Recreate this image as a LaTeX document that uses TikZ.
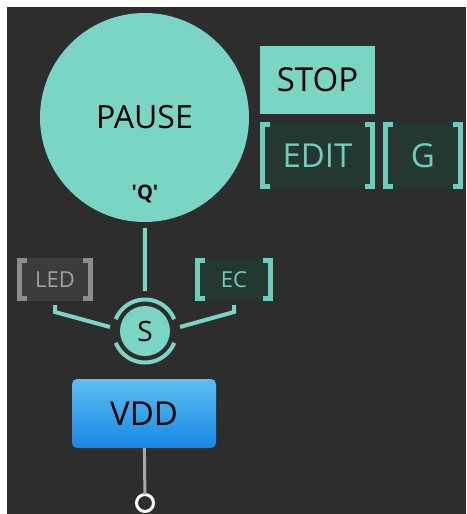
\documentclass[tikz,border=0pt]{standalone}
\usepackage{fontspec}
\setmainfont{Open Sans}
\newfontfamily\quotefont{Open Sans}[Ligatures=TeXOff]
\usetikzlibrary{positioning}

\definecolor{bg}{HTML}{2D2D2D}
\definecolor{mint}{HTML}{7AD5C5}
\definecolor{mintline}{HTML}{6FCDBB}
\definecolor{darkmint}{HTML}{243831}
\definecolor{ledfill}{HTML}{3C3C3C}
\definecolor{ledgray}{HTML}{8C8C8C}
\definecolor{ledtext}{HTML}{A0A0A0}
\definecolor{vddtop}{HTML}{5EBEF2}
\definecolor{vddbot}{HTML}{1689E4}
\definecolor{wiregray}{HTML}{A8A8A8}

% square brackets on both sides of a node
\newcommand{\brk}[2]{
	\draw[#2,line width=5pt] ([xshift=10pt,yshift=-2.5pt]#1.north west) -- ([xshift=2.5pt,yshift=-2.5pt]#1.north west)
		-- ([xshift=2.5pt,yshift=2.5pt]#1.south west) -- ([xshift=10pt,yshift=2.5pt]#1.south west);
	\draw[#2,line width=5pt] ([xshift=-10pt,yshift=-2.5pt]#1.north east) -- ([xshift=-2.5pt,yshift=-2.5pt]#1.north east)
		-- ([xshift=-2.5pt,yshift=2.5pt]#1.south east) -- ([xshift=-10pt,yshift=2.5pt]#1.south east);
}

\begin{document}
\begin{tikzpicture}[x=1pt,y=1pt,every node/.style={inner sep=0pt,outer sep=0pt},
		bigfont/.style={font=\fontsize{33}{33}\selectfont},
		mintbox/.style={bigfont,fill=mint,minimum width=115pt,minimum height=68pt},
		darkbox/.style={bigfont,fill=darkmint,text=mintline,minimum height=67pt},
		smallbox/.style={font=\fontsize{22}{22}\selectfont,minimum height=43pt},
		wire/.style={draw=mint,line width=4pt},
		gwire/.style={draw=wiregray,line width=3pt}]
		\useasboundingbox (0,0) rectangle (466,-514);
		\fill[bg] (7,-7) rectangle (466,-514);
		
		\node[circle,fill=mint,minimum size=209pt,font=\fontsize{32}{32}\selectfont] (pause) at (144.5,-117.5) {PAUSE};
		\node[font=\quotefont\bfseries\fontsize{20}{20}\selectfont] (q) at (145,-194) {'Q'};
		\node[mintbox] (stop) at (317.5,-80) {STOP};
		\node[darkbox,minimum width=115pt] (edit) at (317.5,-155.5) {EDIT};
		\node[darkbox,minimum width=80pt] (g) at (423,-155.5) {G};
		\node[smallbox,fill=ledfill,text=ledtext,minimum width=76pt] (led) at (55,-279.5) {LED};
		\node[smallbox,fill=darkmint,text=mintline,minimum width=78pt] (ec) at (234,-279.5) {EC};
		\node[circle,fill=mint,minimum size=50pt,font=\fontsize{28}{28}\selectfont] (s) at (145,-331) {S};
		\node[bigfont,rounded corners=5pt,top color=vddtop,bottom color=vddbot,minimum width=144pt,minimum height=69pt] (vdd) at (144,-413.5) {VDD};
		\node[circle,draw=white,line width=3pt,fill=bg,minimum size=17pt] (term) at (145,-503) {};
		\coordinate (ledin) at (110,-327);
		\coordinate (ecin) at (180,-327);
		
		\brk{edit}{mintline}
		\brk{g}{mintline}
		\brk{led}{ledgray}
		\brk{ec}{mintline}
		
		% ring round S
		\draw[mint,line width=4pt] (s.center) ++(22:31.5) arc[start angle=22,end angle=158,radius=31.5];
		\draw[mint,line width=4pt] (s.center) ++(202:31.5) arc[start angle=202,end angle=338,radius=31.5];
		
		\draw[wire,shorten <=6pt,shorten >=15pt] (pause) -- (s);
		\draw[wire,shorten <=4pt] (led.south) -- ++(0,-11) -- (ledin);
		\draw[wire,shorten <=4pt] (ec.south) -- ++(0,-11) -- (ecin);
		\draw[gwire] (vdd) -- (term);
	\end{tikzpicture}
\end{document}
